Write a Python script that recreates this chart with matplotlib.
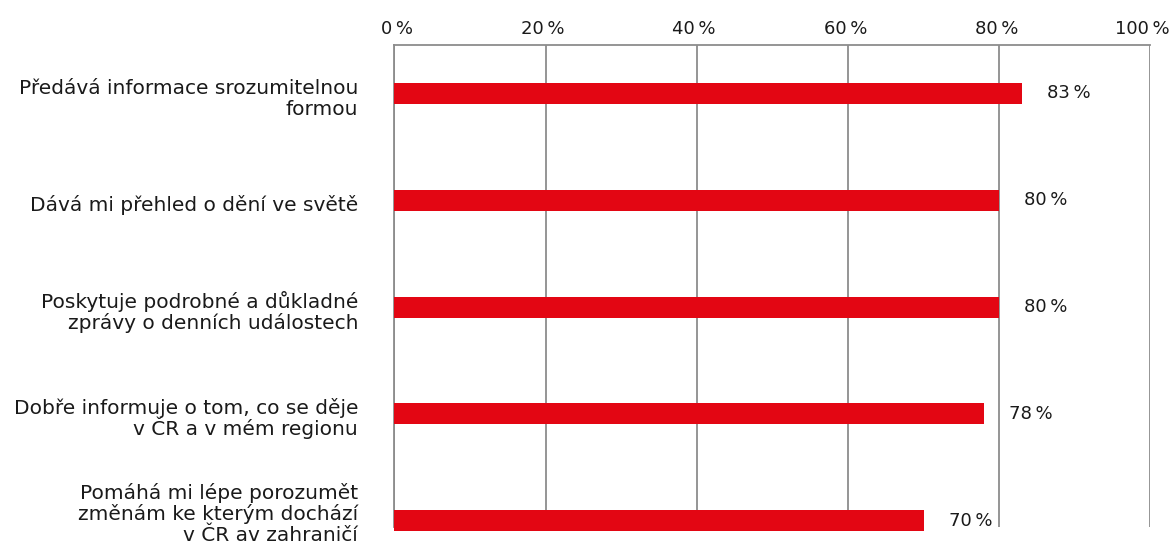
import numpy as np
import matplotlib
matplotlib.use("Agg")
import matplotlib.pyplot as plt
from matplotlib.transforms import ScaledTranslation

plt.rcParams['font.family'] = ['DejaVu Sans']

kategorie = [
    "Předává informace srozumitelnou\nformou",
    "Dává mi přehled o dění ve světě",
    "Poskytuje podrobné a důkladné\nzprávy o denních událostech",
    "Dobře informuje o tom, co se děje\nv ČR a v mém regionu",
    "Pomáhá mi lépe porozumět\nzměnám ke kterým dochází\nv ČR av zahraničí",
]
hodnoty = [83, 80, 80, 78, 70]
ticky = [0, 20, 40, 60, 80, 100]

cervena = "#e30613"
seda = "#8c8c8c"
text_barva = "#1a1a1a"

W, H = 1170, 546
fig = plt.figure(figsize=(W / 100, H / 100), dpi=100)
ax = fig.add_axes([0.337, 0.0348, 0.6462, 0.8828])

y = np.arange(len(kategorie))
bars = ax.barh(y, hodnoty, height=0.197, color=cervena, zorder=3)
for b in bars:
    b.set_clip_on(False)

ax.set_xlim(0, 100)
ax.set_ylim(4.06, -0.454)

ax.xaxis.tick_top()
ax.set_xticks(ticks=ticky, labels=[f"{t}\u2009%" for t in ticky])
ax.set_yticks(y)
ax.set_yticklabels([])
ax.tick_params(axis='x', length=0, pad=5, labelsize=13, colors=text_barva)
ax.tick_params(axis='y', length=0)
posun = ScaledTranslation(19 / 100, 0, fig.dpi_scale_trans)
for lab in ax.get_xticklabels():
    lab.set_ha('right')
    lab.set_transform(lab.get_transform() + posun)

# popisky kategorii po radcich (stejne rozestupy i s hackem nad C)
radek = 21      # px
fig.canvas.draw()
for yi, txt in zip(y, kategorie):
    radky = txt.split("\n")
    n = len(radky)
    stred_px = ax.transData.transform((0, yi))[1]
    posl = (n - 1) / 2 * radek + 11
    if stred_px - posl < 5:
        posl = stred_px - 5
    for j, r in enumerate(radky):
        dy = posl - (n - 1 - j) * radek
        ax.annotate(r, xy=(0, yi), xytext=(-26, -dy * 0.72), textcoords='offset points',
                    ha='right', va='baseline', fontsize=14.5, color=text_barva,
                    annotation_clip=False)

ax.grid(axis='x', color=seda, linewidth=1.3, zorder=0)
ax.grid(axis='y', visible=False)
for s in ['right', 'bottom']:
    ax.spines[s].set_visible(False)
for s in ['top', 'left']:
    ax.spines[s].set_color(seda)
    ax.spines[s].set_linewidth(1.3)

for yi, v in zip(y, hodnoty):
    ax.annotate(f"{v}\u2009%", xy=(v, yi), xytext=(18, 0), textcoords='offset points',
                ha='left', va='center', fontsize=13, color=text_barva)

fig.savefig("out.png", dpi=100)
